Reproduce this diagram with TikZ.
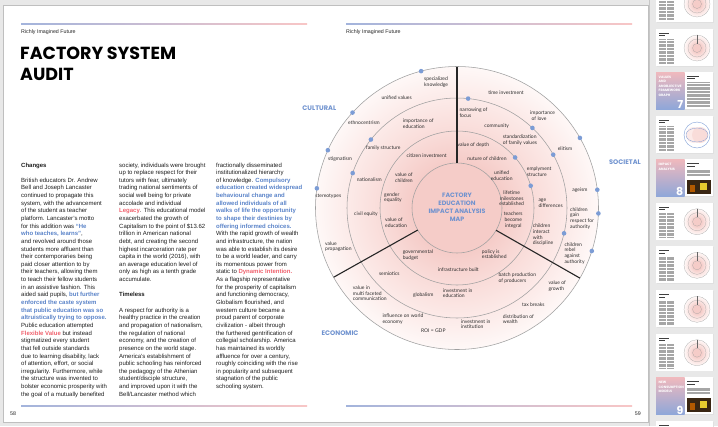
\documentclass[tikz,border=0pt]{standalone}
\usepackage{fontspec}
\setmainfont{Liberation Sans}
\newfontfamily\titlefont{Poppins}
\newfontfamily\labfont{Lato}
\usetikzlibrary{calc}
\definecolor{bgg}{HTML}{E8E8E8}
\definecolor{pblue}{HTML}{5B84C9}
\definecolor{ppink}{HTML}{F0626E}
\definecolor{lblue}{HTML}{A3B4DC}
\definecolor{lpink}{HTML}{F8C6C6}
\definecolor{ringc}{HTML}{A0A0A0}
\definecolor{dotc}{HTML}{7C9CD5}
\definecolor{labc}{HTML}{2E2E2E}
\definecolor{secc}{HTML}{6F92CF}
\definecolor{cpink}{HTML}{F5CCC8}
\definecolor{cpinkb}{HTML}{F9DCD9}
\definecolor{cpinkd}{HTML}{FCEAE8}
\definecolor{cpinkc}{HTML}{FEF8F7}
\definecolor{tpink}{HTML}{F0B9BD}
\definecolor{tblue}{HTML}{8FA7D9}
\pgfdeclareradialshading{pinkfade}{\pgfpoint{0bp}{0bp}}{color(0bp)=(cpink); color(8bp)=(cpink); color(13.6bp)=(cpinkb); color(19.4bp)=(cpinkd); color(25bp)=(cpinkc); color(50bp)=(cpinkc)}
\newcommand\hb[1]{\textcolor{pblue}{\bfseries #1}}
\newcommand\hp[1]{\textcolor{ppink}{\bfseries #1}}
\newcommand\tline[3]{\node[body] (#1#2) at (\csname colx#1\endcsname,{167+(#2-1)*7.64}) {#3};}
\def\colxa{21}\def\colxb{119}\def\colxc{216}
\newcommand\thumbbase[1]{%
  \fill[black!12] (656.6,#1+0.6) rectangle (713.6,#1+37.6);
  \fill[white] (656,#1) rectangle (713,#1+37);}
\newcommand\thumbtext[2]{% y, blue ring?
  \thumbbase{#1}
  \fill[black!75] (659,#1+4) rectangle (669,#1+5.1);
  \fill[black!75] (659,#1+6.3) rectangle (665,#1+7.4);
  \foreach \k in {0,...,17} {
    \draw[black!35,line width=0.35pt] (659,#1+10.5+\k*1.4) -- (665.5,#1+10.5+\k*1.4);
    \draw[black!35,line width=0.35pt] (667,#1+10.5+\k*1.4) -- (673.5,#1+10.5+\k*1.4);
  }
  \ifnum#2=1
    \fill[cpinkd] (694,#1+19) circle[radius=8pt];
    \fill[cpinkb] (700,#1+19) circle[radius=8pt];
    \draw[dotc,line width=0.4pt] (697,#1+19) circle[radius=13pt];
    \draw[dotc,line width=0.3pt] (697,#1+19) ellipse[x radius=11pt,y radius=7pt];
  \else
    \shade[shading=pinkfade] (697,#1+19) circle[radius=13pt];
    \draw[ringc,line width=0.2pt] (697,#1+19) circle[radius=13pt] (697,#1+19) circle[radius=9pt] (697,#1+19) circle[radius=4.5pt];
    \draw[black!60,line width=0.3pt] (697,#1+6) -- (697,#1+14.5);
  \fi}
\newcommand\thumbchap[4]{% y, title, number, photo?
  \thumbbase{#1}
  \shade[top color=tpink,bottom color=tblue] (656,#1) rectangle (684.5,#1+37);
  \node[anchor=north west,inner sep=0pt,align=left,text=white,font=\titlefont\bfseries\fontsize{3.3}{4.4}\selectfont] (ch#3) at (658.5,#1+4) {#2};
  \node[anchor=south east,inner sep=0pt,text=white,font=\titlefont\bfseries\fontsize{11}{11}\selectfont] (num#3) at (683.5,#1+37) {#3};
  \fill[black!75] (687,#1+4) rectangle (699,#1+5.1);
  \fill[black!75] (687,#1+6.3) rectangle (695,#1+7.4);
  \foreach \k in {0,...,4} {
    \draw[black!35,line width=0.35pt] (687,#1+10.5+\k*1.4) -- (710,#1+10.5+\k*1.4);
  }
  \ifnum#4=1
    \fill[black!70!brown] (686.5,#1+21) rectangle (711,#1+35);
    \fill[orange!70!black] (690,#1+26) rectangle (695,#1+33);
    \fill[yellow!60!brown] (700,#1+24) rectangle (707,#1+31);
  \else
    \foreach \k in {5,...,17} {
      \draw[black!35,line width=0.35pt] (687,#1+10.5+\k*1.4) -- (710,#1+10.5+\k*1.4);
    }
  \fi}
\begin{document}
\begin{tikzpicture}[x=1pt,y=-1pt,
  body/.style={anchor=base west,inner sep=0pt,font=\fontsize{6}{7}\selectfont,text=black!88},
  lab/.style={inner sep=0pt,font=\labfont\fontsize{5}{5.7}\selectfont,text=labc,align=left},
  labw/.style={lab,anchor=west},
  labc/.style={lab,align=center},
  sect/.style={inner sep=0pt,font=\titlefont\bfseries\fontsize{6.6}{7}\selectfont,text=secc},
  ringline/.style={draw=ringc,line width=0.55pt},
  divider/.style={draw=black!85,line width=1.1pt},
  dotmark/.style={fill=dotc},
  hdr/.style={anchor=base west,inner sep=0pt,font=\fontsize{5.3}{6}\selectfont,text=black!85},
  rulebar/.style={left color=lblue,right color=lpink}]
\useasboundingbox (0,0) rectangle (718,426);
\fill[bgg] (0,0) rectangle (718,426);
\fill[white] (3,5) rectangle (648,422);
\draw[black!25,line width=0.4pt] (3,5) rectangle (648,422);

% header and footer rules
\shade[rulebar] (21,23.6) rectangle (307,24.6);
\shade[rulebar] (346,23.6) rectangle (632,24.6);
\shade[rulebar] (21,405.6) rectangle (307,406.4);
\shade[rulebar] (346,405.6) rectangle (632,406.4);
\node[hdr] (hl) at (21,33) {Richly Imagined Future};
\node[hdr] (hr) at (346,33) {Richly Imagined Future};
\node[hdr] (p58) at (10,415.5) {58};
\node[hdr,anchor=base east] (p59) at (641,415.5) {59};

% title
\node[anchor=base west,inner sep=0pt,font=\titlefont\bfseries\fontsize{17.5}{20}\selectfont] (t1) at (20,59.3) {FACTORY SYSTEM};
\node[anchor=base west,inner sep=0pt,font=\titlefont\bfseries\fontsize{17.5}{20}\selectfont] (t2) at (20,80) {AUDIT};

% column 1
\tline{a}{1}{\textbf{Changes}}
\tline{a}{3}{British educators Dr. Andrew}
\tline{a}{4}{Bell and Joseph Lancaster}
\tline{a}{5}{continued to propagate this}
\tline{a}{6}{system, with the advancement}
\tline{a}{7}{of the student as teacher}
\tline{a}{8}{platform. Lancaster's motto}
\tline{a}{9}{for this addition was \hb{“He}}
\tline{a}{10}{\hb{who teaches, learns”},}
\tline{a}{11}{and revolved around those}
\tline{a}{12}{students more affluent than}
\tline{a}{13}{their contemporaries being}
\tline{a}{14}{paid closer attention to by}
\tline{a}{15}{their teachers, allowing them}
\tline{a}{16}{to teach their fellow students}
\tline{a}{17}{in an assistive fashion. This}
\tline{a}{18}{aided said pupils, \hb{but further}}
\tline{a}{19}{\hb{enforced the caste system}}
\tline{a}{20}{\hb{that public education was so}}
\tline{a}{21}{\hb{altruistically trying to oppose.}}
\tline{a}{22}{Public education attempted}
\tline{a}{23}{\hp{Flexible Value} but instead}
\tline{a}{24}{stigmatized every student}
\tline{a}{25}{that fell outside standards}
\tline{a}{26}{due to learning disability, lack}
\tline{a}{27}{of attention, effort, or social}
\tline{a}{28}{irregularity. Furthermore, while}
\tline{a}{29}{the structure was invented to}
\tline{a}{30}{bolster economic prosperity with}
\tline{a}{31}{the goal of a mutually benefited}
% column 2
\tline{b}{1}{society, individuals were brought}
\tline{b}{2}{up to replace respect for their}
\tline{b}{3}{tutors with fear, ultimately}
\tline{b}{4}{trading national sentiments of}
\tline{b}{5}{social well being for private}
\tline{b}{6}{accolade and individual}
\tline{b}{7}{\hp{Legacy}. This educational model}
\tline{b}{8}{exacerbated the growth of}
\tline{b}{9}{Capitalism to the point of \$13.62}
\tline{b}{10}{trillion in American national}
\tline{b}{11}{debt, and creating the second}
\tline{b}{12}{highest incarceration rate per}
\tline{b}{13}{capita in the world (2016), with}
\tline{b}{14}{an average education level of}
\tline{b}{15}{only as high as a tenth grade}
\tline{b}{16}{accumulate.}
\tline{b}{18}{\textbf{Timeless}}
\tline{b}{20}{A respect for authority is a}
\tline{b}{21}{healthy practice in the creation}
\tline{b}{22}{and propagation of nationalism,}
\tline{b}{23}{the regulation of national}
\tline{b}{24}{economy, and the creation of}
\tline{b}{25}{presence on the world stage.}
\tline{b}{26}{America's establishment of}
\tline{b}{27}{public schooling has reinforced}
\tline{b}{28}{the pedagogy of the Athenian}
\tline{b}{29}{student/disciple structure,}
\tline{b}{30}{and improved upon it with the}
\tline{b}{31}{Bell/Lancaster method which}
% column 3
\tline{c}{1}{fractionally disseminated}
\tline{c}{2}{institutionalized hierarchy}
\tline{c}{3}{of knowledge. \hb{Compulsory}}
\tline{c}{4}{\hb{education created widespread}}
\tline{c}{5}{\hb{behavioural change and}}
\tline{c}{6}{\hb{allowed individuals of all}}
\tline{c}{7}{\hb{walks of life the opportunity}}
\tline{c}{8}{\hb{to shape their destinies by}}
\tline{c}{9}{\hb{offering informed choices.}}
\tline{c}{10}{With the rapid growth of wealth}
\tline{c}{11}{and infrastructure, the nation}
\tline{c}{12}{was able to establish its desire}
\tline{c}{13}{to be a world leader, and carry}
\tline{c}{14}{its momentous power from}
\tline{c}{15}{static to \hp{Dynamic Intention.}}
\tline{c}{16}{As a flagship representative}
\tline{c}{17}{for the prosperity of capitalism}
\tline{c}{18}{and functioning democracy,}
\tline{c}{19}{Globalism flourished, and}
\tline{c}{20}{western culture became a}
\tline{c}{21}{proud parent of corporate}
\tline{c}{22}{civilization - albeit through}
\tline{c}{23}{the furthered gentrification of}
\tline{c}{24}{collegial scholarship. America}
\tline{c}{25}{has maintained its worldly}
\tline{c}{26}{affluence for over a century,}
\tline{c}{27}{roughly coinciding with the rise}
\tline{c}{28}{in popularity and subsequent}
\tline{c}{29}{stagnation of the public}
\tline{c}{30}{schooling system.}

% ===== diagram =====
\coordinate (C) at (457,208);
\shade[shading=pinkfade] (C) circle[radius=141.5pt];
\draw[ringline] (C) circle[radius=141.5pt];
\draw[ringline] (C) circle[radius=110pt];
\draw[ringline] (C) circle[radius=77pt];
\draw[ringline] (C) circle[radius=45pt];
\draw[divider] ($(C)+(90:45pt)$) -- ($(C)+(90:141.5pt)$);
\draw[divider] ($(C)+(209.3:45pt)$) -- ($(C)+(209.3:141.5pt)$);
\draw[divider] ($(C)+(330.3:45pt)$) -- ($(C)+(330.3:141.5pt)$);

\foreach \a in {104.7,137.6,155.9,172,29.7,7.4,-2.2,-17.7}
  \fill[dotmark] ($(C)+(\a:141.5pt)$) circle[radius=2.3pt];
\foreach \a in {84.2,141.5,161.5,46.7,29,-13.3}
  \fill[dotmark] ($(C)+(\a:110pt)$) circle[radius=2.3pt];
\foreach \a in {41,16.8}
  \fill[dotmark] ($(C)+(\a:77pt)$) circle[radius=2.3pt];

\node[align=center,inner sep=0pt,text=secc,font=\titlefont\bfseries\fontsize{6.3}{8.1}\selectfont] (core) at (457,207.5) {FACTORY\\EDUCATION\\IMPACT ANALYSIS\\MAP};

\node[sect] (cult) at (319.3,108.3) {CULTURAL};
\node[sect] (soc) at (625,161.7) {SOCIETAL};
\node[sect] (eco) at (340,332.7) {ECONOMIC};

% cultural labels
\node[labw] (l1) at (424,82) {specialized\\knowledge};
\node[lab] (l2) at (396.7,97.3) {unified values};
\node[lab] (l3) at (364,122.7) {ethnocentrism};
\node[labw] (l4) at (402.7,124) {importance of\\education};
\node[lab] (l5) at (383.3,148.3) {family structure};
\node[lab] (l6) at (340,159.3) {stigmatism};
\node[lab] (l7) at (426.7,156) {citizen investment};
\node[lab] (l8) at (369.3,179.3) {nationalism};
\node[labw] (l9) at (395,177.7) {value of\\children};
\node[lab] (l10) at (328.3,196) {stereotypes};
\node[labw] (l11) at (384,197.7) {gender\\equality};
\node[lab] (l12) at (366,214.3) {civil equity};
\node[labw] (l13) at (385,222.7) {value of\\education};
\node[labw] (l14) at (325,246.7) {value\\propagation};
% societal labels
\node[lab] (s1) at (506,92.7) {time investment};
\node[labw] (s2) at (459.3,112.7) {narrowing of\\focus};
\node[labw] (s3) at (530,115.7) {importance\\\hspace*{1.5pt}of love};
\node[lab] (s4) at (496.7,125.7) {community};
\node[labw] (s5) at (502.7,140) {standardization\\of family values};
\node[lab] (s6) at (565,148.3) {elitism};
\node[lab] (s7) at (473.3,145) {value of depth};
\node[lab] (s8) at (487,158.3) {nuture of children};
\node[labc] (s9) at (501.7,176) {unified\\education};
\node[labw] (s10) at (526.7,171.7) {emplyment\\structure};
\node[labc] (s11) at (511.7,198.3) {lifetime\\milestones\\established};
\node[labw] (s12) at (538.3,203.3) {age\\differences};
\node[lab] (s13) at (580,190) {ageism};
\node[labw] (s14) at (570,218.3) {children\\gain\\respect for\\authority};
\node[labc] (s15) at (513.3,220) {teachers\\become\\integral};
\node[labw] (s16) at (532.7,235) {children\\interact\\with\\discipline};
\node[labw] (s17) at (564.3,253.3) {children\\rebel\\against\\authority};
% economic labels
\node[labw] (e1) at (481.7,254.3) {policy is\\established};
\node[labw] (e2) at (402.7,255) {governmental\\budget};
\node[lab] (e3) at (458.3,269.3) {infrastructure built};
\node[lab] (e4) at (389.3,273.3) {semiotics};
\node[labw] (e5) at (498.3,278.3) {batch production\\of producers};
\node[labw] (e6) at (352.7,293.3) {value in\\multi faceted\\communication};
\node[lab] (e7) at (423.3,295) {globalism};
\node[labw] (e8) at (442.7,293.3) {investment in\\education};
\node[labw] (e9) at (548.3,286) {value of\\growth};
\node[lab] (e10) at (533.3,305) {tax breaks};
\node[labw] (e11) at (502.7,319.3) {distribution of\\wealth};
\node[labw] (e12) at (382.3,319) {influence on world\\economy};
\node[lab] (e13) at (433.3,331) {ROI = GDP};
\node[labw] (e14) at (460.7,324.3) {investment in\\institution};

% ===== thumbnails strip =====
\begin{scope}
\clip (648.5,0) rectangle (718,426);
\fill[bgg] (648.5,0) rectangle (718,426);
\draw[black!22,line width=0.5pt] (649,0) -- (649,426);
\thumbtext{-15}{0}
\thumbtext{29}{0}
\thumbchap{72}{VALUES\\AND\\ANOBJECTIVE\\FRAMEWORK\\GRAPH}{7}{0}
\thumbtext{116}{1}
\thumbchap{159.3}{IMPACT\\ANALYSIS}{8}{1}
\thumbtext{202.7}{0}
\thumbtext{246.3}{0}
\thumbtext{290.3}{0}
\thumbtext{333.7}{0}
\thumbchap{377.3}{NEW\\CONSUMPTION\\MODELS}{9}{1}
\thumbtext{421.3}{0}
\end{scope}
\end{tikzpicture}
\end{document}
